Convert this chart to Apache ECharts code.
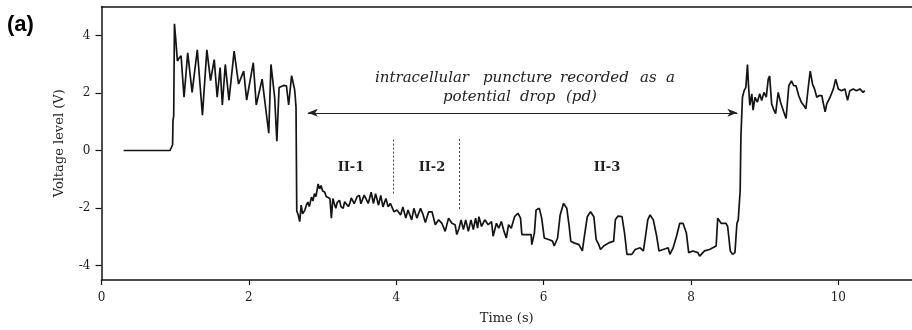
<!DOCTYPE html>
<html><head><meta charset="utf-8">
<script src="https://cdn.jsdelivr.net/npm/echarts@6/dist/echarts.min.js"></script>
<style>html,body{margin:0;padding:0;background:#fff}#c{width:912px;height:330px}</style>
</head><body><div id="c"></div>
<script>
// ---- data (time in s, voltage in V) ----
const baselineT = [0.30, 0.93, 0.95, 0.965, 0.97, 0.98, 0.99];
const baselineV = [0, 0, 0.05, 0.2, 1.05, 1.2, 4.4];

const phaseIT = [1.01,1.03,1.056,1.08,1.12,1.17,1.23,1.30,1.37,1.43,1.48,1.53,1.57,1.61,1.64,1.68,1.73,1.80,1.86,1.93,1.97,2.06,2.10,2.18,2.21,2.27,2.30,2.35,2.38,2.41,2.47,2.51,2.54,2.58,2.62,2.63,2.64];
const phaseIV = [3.79,3.11,3.22,3.29,1.85,3.39,2.02,3.50,1.23,3.50,2.43,3.16,1.85,2.88,1.58,2.99,1.75,3.45,2.31,2.76,1.75,3.05,1.58,2.48,1.85,0.60,2.99,1.85,0.32,2.19,2.26,2.25,1.58,2.60,2.13,1.85,1.5];

const phaseII1T = [2.65,2.67,2.69,2.71,2.73,2.76,2.78,2.80,2.82,2.85,2.87,2.89,2.91,2.94,2.96,2.98,3.00,3.03,3.05,3.07,3.10,3.12,3.14,3.16,3.18,3.20,3.23,3.25,3.28,3.30,3.32,3.35,3.37,3.39,3.41,3.43,3.45,3.47,3.50,3.52,3.54,3.565,3.59,3.62,3.66,3.69,3.72,3.76,3.79,3.82,3.86,3.89,3.92,3.97];
const phaseII1V = [-2.10,-2.24,-2.47,-1.90,-2.20,-2.07,-1.90,-1.79,-1.95,-1.62,-1.75,-1.50,-1.60,-1.16,-1.33,-1.22,-1.40,-1.45,-1.60,-1.56,-1.67,-2.35,-1.67,-1.85,-2.01,-1.80,-1.73,-1.95,-2.01,-1.78,-1.73,-1.95,-1.84,-1.65,-1.62,-1.85,-1.79,-1.60,-1.56,-1.85,-1.79,-1.55,-1.50,-1.84,-1.45,-1.84,-1.50,-1.90,-1.56,-1.96,-1.67,-1.96,-1.84,-2.13];

const phaseII2T = [4.01,4.06,4.09,4.13,4.16,4.21,4.24,4.28,4.33,4.36,4.395,4.441,4.486,4.530,4.576,4.620,4.664,4.710,4.755,4.799,4.822,4.853];
const phaseII2V = [-2.07,-2.24,-1.96,-2.35,-2.07,-2.41,-2.01,-2.35,-2.01,-2.20,-2.50,-2.13,-2.13,-2.58,-2.41,-2.53,-2.81,-2.35,-2.53,-2.58,-2.92,-2.70];

const phaseII3T = [4.880,4.912,4.943,4.979,5.014,5.046,5.077,5.104,5.122,5.158,
  5.202,5.248,5.293,5.315,5.360,5.391,5.427,5.463,5.494,5.525,
  5.561,5.606,5.652,5.687,5.705,5.763,5.831,5.840,5.875,5.898,
  5.942,5.974,6.009,6.077,6.122,6.144,6.190,6.225,6.270,6.315,
  6.346,6.369,6.413,6.480,6.503,6.526,6.547,6.593,6.637,6.682,
  6.714,6.749,6.772,6.816,6.884,6.951,6.974,7.010,7.064,7.099,
  7.131,7.198,7.243,7.310,7.354,7.377,7.414,7.445,7.489,7.535,
  7.566,7.623,7.691,7.714,7.758,7.804,7.848,7.892,7.938,7.969,
  8.027,8.094,8.117,8.184,8.252,8.296,8.342,8.363,8.409,8.476,
  8.498,8.534,8.565,8.597,8.624,8.642];
const phaseII3V = [-2.41,-2.75,-2.41,-2.81,-2.41,-2.75,-2.35,-2.70,-2.30,-2.64,
  -2.41,-2.58,-2.47,-2.98,-2.53,-2.70,-2.47,-2.81,-3.04,-2.58,
  -2.70,-2.30,-2.18,-2.35,-2.92,-2.92,-2.92,-3.27,-2.87,-2.07,
  -2.01,-2.35,-3.04,-3.10,-3.15,-3.32,-3.04,-2.24,-1.84,-2.01,
  -2.60,-3.15,-3.21,-3.27,-3.21,-3.49,-3.10,-2.30,-2.13,-2.30,
  -3.10,-3.27,-3.44,-3.32,-3.21,-3.15,-2.41,-2.28,-2.30,-2.87,
  -3.61,-3.61,-3.44,-3.38,-3.49,-3.10,-2.41,-2.24,-2.41,-2.98,
  -3.49,-3.44,-3.38,-3.61,-3.38,-2.98,-2.53,-2.53,-2.87,-3.55,
  -3.49,-3.55,-3.67,-3.49,-3.44,-3.38,-3.32,-2.35,-2.53,-2.53,
  -2.64,-3.49,-3.61,-3.55,-2.53,-2.41];

const recoveryT = [8.668,8.678,8.699,8.722,8.745,8.767,8.780,8.799,8.826,8.843,
  8.870,8.901,8.933,8.960,8.991,9.022,9.049,9.068,9.095,9.126,
  9.149,9.184,9.216,9.260,9.291,9.328,9.364,9.395,9.426,9.462,
  9.498,9.529,9.560,9.597,9.619,9.650,9.677,9.708,9.741,9.776,
  9.798,9.821,9.843,9.888,9.933,9.964,10.000,10.044,10.090,10.125,
  10.157,10.202,10.246,10.292,10.336,10.359];
const recoveryV = [-1.39,0.49,1.85,2.08,2.19,2.99,2.31,1.57,1.97,1.40,
  1.85,1.68,1.97,1.74,2.02,1.85,2.48,2.59,1.62,1.40,
  1.28,2.02,1.68,1.34,1.11,2.25,2.42,2.25,2.25,1.91,
  1.68,1.57,1.45,2.31,2.76,2.31,2.14,1.85,1.91,1.91,
  1.62,1.34,1.62,1.85,2.14,2.48,2.14,2.08,2.14,1.74,
  2.08,2.14,2.08,2.14,2.02,2.08];

const xTicks = [0, 2, 4, 6, 8, 10];
const yTicks = [-4, -2, 0, 2, 4];

// annotations (data units)
const pdArrow = { from: 2.80, to: 8.63, level: 1.31 };
const phaseBounds = [ { t: 3.96, top: 0.38, bottom: -1.50 }, { t: 4.85, top: 0.40, bottom: -2.07 } ];
const phaseLabels = ['II-1', 'II-2', 'II-3'];

// ---- build ----
const segT = [baselineT, phaseIT, phaseII1T, phaseII2T, phaseII3T, recoveryT];
const segV = [baselineV, phaseIV, phaseII1V, phaseII2V, phaseII3V, recoveryV];
const trace = [];
segT.forEach((ts, i) => ts.forEach((t, j) => trace.push([t, segV[i][j]])));

const SERIF = '"DejaVu Serif", "Liberation Serif", serif';
const ink = '#141414';

const chart = echarts.init(document.getElementById('c'), null, { renderer: 'canvas' });
chart.setOption({
  animation: false,
  backgroundColor: '#ffffff',
  grid: { left: 101.5, right: -7.4, top: 6.6, bottom: 45 },
  xAxis: [
    {
      type: 'value', min: 0, max: 11, position: 'bottom',
      axisLine: { onZero: false, lineStyle: { color: ink, width: 1.5 } },
      axisTick: { show: true, length: 5, customValues: xTicks, lineStyle: { color: ink, width: 1.2 } },
      axisLabel: { customValues: xTicks, margin: 12, color: '#222', fontFamily: SERIF, fontSize: 12 },
      splitLine: { show: false },
      name: 'Time (s)', nameLocation: 'middle', nameGap: 32,
      nameTextStyle: { color: '#222', fontFamily: SERIF, fontSize: 13 }
    },
    {
      type: 'value', min: 0, max: 11, position: 'top',
      axisLine: { show: true, onZero: false, lineStyle: { color: ink, width: 1.5 } },
      axisTick: { show: false }, axisLabel: { show: false }, splitLine: { show: false }
    }
  ],
  yAxis: {
    type: 'value', min: -4.5, max: 5,
    axisLine: { show: true, onZero: false, lineStyle: { color: ink, width: 1.5 } },
    axisTick: { show: true, length: 6, customValues: yTicks, lineStyle: { color: ink, width: 1.2 } },
    axisLabel: { customValues: yTicks, margin: 11, color: '#222', fontFamily: SERIF, fontSize: 12 },
    splitLine: { show: false },
    name: 'Voltage level (V)', nameLocation: 'middle', nameGap: 35,
    nameTextStyle: { color: '#222', fontFamily: SERIF, fontSize: 13 }
  },
  series: [
    {
      type: 'line', data: trace, showSymbol: false, symbol: 'none',
      lineStyle: { color: ink, width: 1.7 }, z: 3,
      markLine: {
        silent: true, symbol: ['none', 'none'], label: { show: false },
        lineStyle: { color: '#444', width: 1, type: [2, 2] },
        data: phaseBounds.map(b => [{ coord: [b.t, b.top] }, { coord: [b.t, b.bottom] }])
      }
    },
    {
      type: 'line', data: [], showSymbol: false,
      markLine: {
        silent: true, symbol: ['arrow', 'arrow'], symbolSize: [6, 10], label: { show: false },
        lineStyle: { color: '#222', width: 1, type: 'solid' },
        data: [[{ coord: [pdArrow.from, pdArrow.level] }, { coord: [pdArrow.to, pdArrow.level] }]]
      }
    }
  ],
  graphic: [
    { type: 'text', left: 7, top: 14, style: { text: '(a)', font: 'bold 22px "Liberation Sans", Arial, sans-serif', fill: '#000' } },
    // italic annotation, word by word to keep the wide spacing
    { type: 'text', x: 375, y: 78, style: { text: 'intracellular', font: 'italic 15px ' + SERIF, fill: '#222', verticalAlign: 'middle' } },
    { type: 'text', x: 483, y: 78, style: { text: 'puncture', font: 'italic 15px ' + SERIF, fill: '#222', verticalAlign: 'middle' } },
    { type: 'text', x: 560, y: 78, style: { text: 'recorded', font: 'italic 15px ' + SERIF, fill: '#222', verticalAlign: 'middle' } },
    { type: 'text', x: 640, y: 78, style: { text: 'as', font: 'italic 15px ' + SERIF, fill: '#222', verticalAlign: 'middle' } },
    { type: 'text', x: 666, y: 78, style: { text: 'a', font: 'italic 15px ' + SERIF, fill: '#222', verticalAlign: 'middle' } },
    { type: 'text', x: 443, y: 97, style: { text: 'potential', font: 'italic 15px ' + SERIF, fill: '#222', verticalAlign: 'middle' } },
    { type: 'text', x: 520, y: 97, style: { text: 'drop', font: 'italic 15px ' + SERIF, fill: '#222', verticalAlign: 'middle' } },
    { type: 'text', x: 566, y: 97, style: { text: '(pd)', font: 'italic 15px ' + SERIF, fill: '#222', verticalAlign: 'middle' } },
    { type: 'text', x: 351, y: 168, style: { text: phaseLabels[0], font: 'bold 13px ' + SERIF, fill: '#222', align: 'center', verticalAlign: 'middle' } },
    { type: 'text', x: 432, y: 168, style: { text: phaseLabels[1], font: 'bold 13px ' + SERIF, fill: '#222', align: 'center', verticalAlign: 'middle' } },
    { type: 'text', x: 607, y: 168, style: { text: phaseLabels[2], font: 'bold 13px ' + SERIF, fill: '#222', align: 'center', verticalAlign: 'middle' } }
  ]
});
</script>
</body></html>
